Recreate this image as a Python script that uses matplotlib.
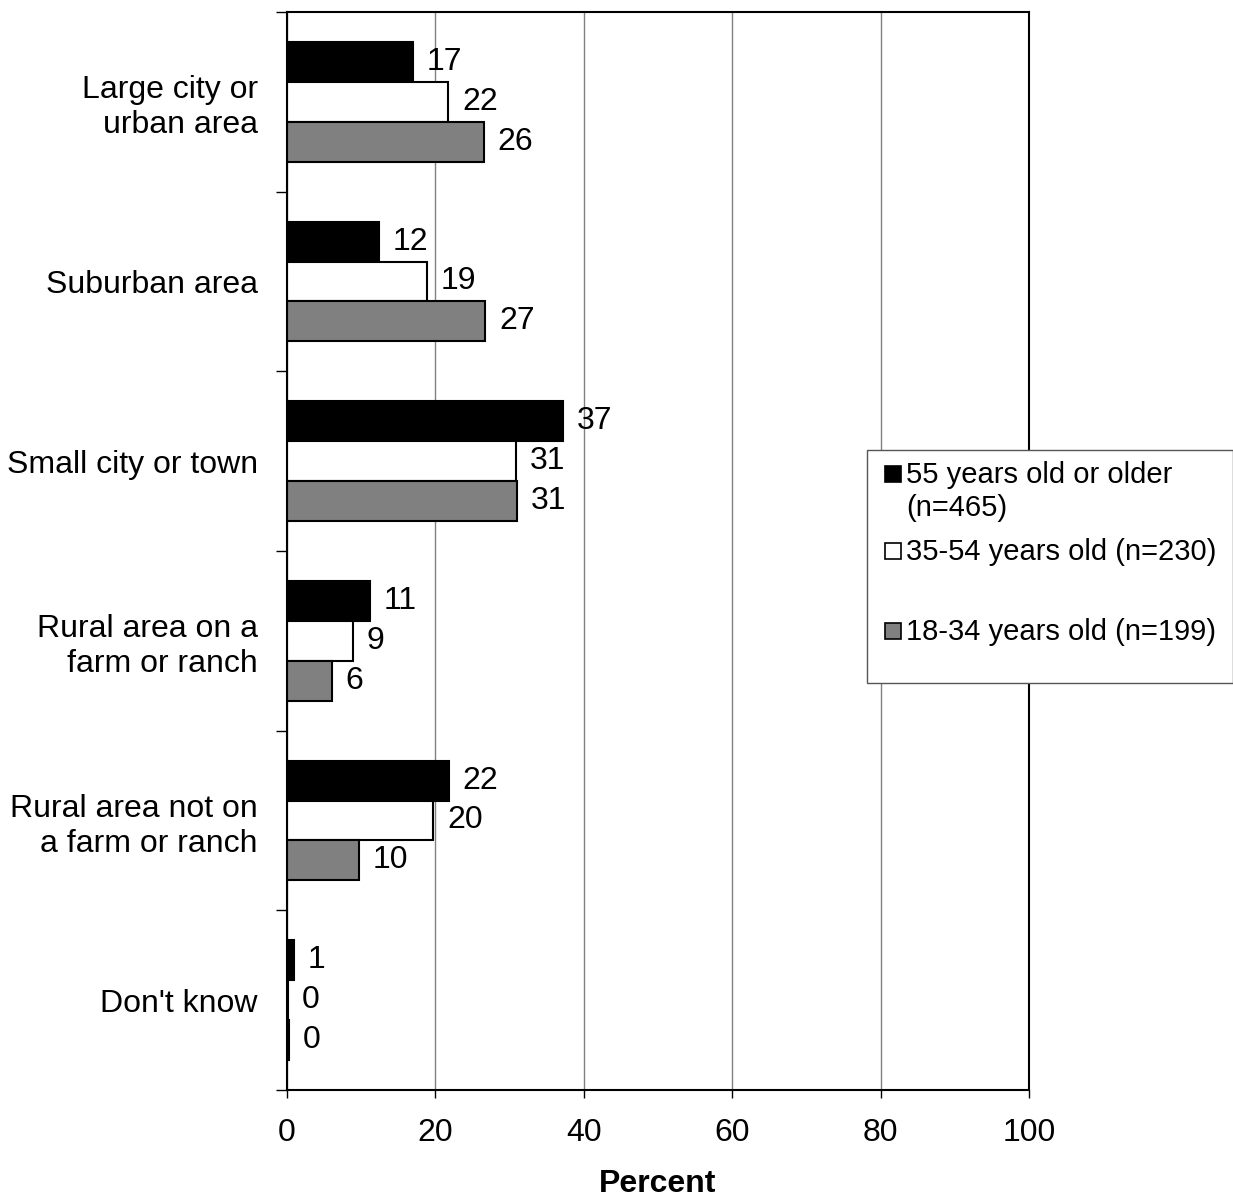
import matplotlib.pyplot as plt
from matplotlib.patches import Rectangle
import numpy as np

plt.rcParams['font.family'] = ['Liberation Sans', 'DejaVu Sans']

categories = ["Large city or\nurban area", "Suburban area", "Small city or town",
              "Rural area on a\nfarm or ranch", "Rural area not on\na farm or ranch", "Don't know"]
series_names = ["55 years old or older\n(n=465)", "35-54 years old (n=230)", "18-34 years old (n=199)"]
old = [17.0, 12.4, 37.2, 11.2, 21.8, 0.9]
mid = [21.7, 18.8, 30.8, 8.9, 19.7, 0.1]
young = [26.5, 26.7, 31.0, 6.0, 9.7, 0.3]
labels_old = ["17", "12", "37", "11", "22", "1"]
labels_mid = ["22", "19", "31", "9", "20", "0"]
labels_young = ["26", "27", "31", "6", "10", "0"]

W, H = 1233, 1198
fig = plt.figure(figsize=(W / 100, H / 100), dpi=100)
ax = fig.add_axes([0.2328, 0.0902, 0.6017, 0.8998])

y = np.arange(len(categories))
h = 0.222
colors = ["black", "white", "#808080"]
fs = 23

for vals, labs, off, col in zip([old, mid, young], [labels_old, labels_mid, labels_young],
                                [-h, 0, h], colors):
    bars = ax.barh(y + off, vals, height=h, color=col, edgecolor="black", linewidth=1.5)
    for b, lab in zip(bars, labs):
        ax.annotate(lab, (b.get_width(), b.get_y() + b.get_height() / 2), xytext=(10, 0),
                    textcoords="offset points", va="center", ha="left", fontsize=fs)

ax.set_xlim(0, 100)
ax.set_ylim(5.5, -0.5)
ax.set_xticks([0, 20, 40, 60, 80, 100])
ax.tick_params(axis="x", labelsize=fs, length=6, width=1, pad=14)
ax.set_yticks(y)
ax.set_yticklabels(categories, fontsize=fs, linespacing=1.22)
ax.tick_params(axis="y", which="major", length=0, pad=21)
ax.set_yticks(np.arange(-0.5, 6.0, 1.0), minor=True)
ax.tick_params(axis="y", which="minor", length=8, width=1)
ax.xaxis.grid(True, color="#808080", linewidth=1)
ax.set_axisbelow(True)
for s in ax.spines.values():
    s.set_linewidth(1.5)
ax.set_xlabel("Percent", fontsize=fs, fontweight="bold", labelpad=15)

# legend drawn by hand to follow the original layout (handle at first text line)
fig.add_artist(Rectangle((867 / W, 1 - 683 / H), (W - 867) / W, (683 - 450) / H,
                         transform=fig.transFigure, facecolor="white", edgecolor="#555555",
                         linewidth=1, zorder=5))
rows = [474, 551, 631]
for name, col, ypx in zip(series_names, colors, rows):
    fig.add_artist(Rectangle((885 / W, 1 - (ypx + 8) / H), 16 / W, 16 / H,
                             transform=fig.transFigure, facecolor=col, edgecolor="black",
                             linewidth=1.2, zorder=6))
    fig.text(906 / W, 1 - (ypx - 13) / H, name, fontsize=21, va="top", ha="left",
             linespacing=1.22, zorder=6)

fig.savefig("out.png", dpi=100)
